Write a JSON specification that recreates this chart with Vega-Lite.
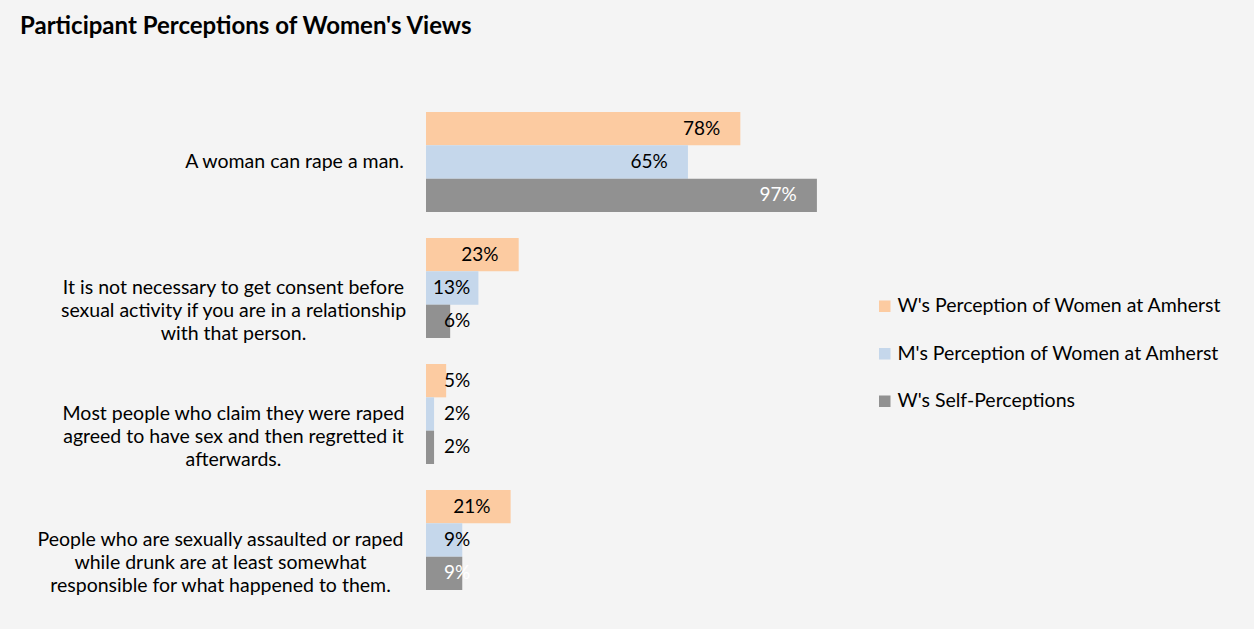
{
  "$schema": "https://vega.github.io/schema/vega-lite/v6.json",
  "width": 403,
  "height": 504,
  "autosize": {"type": "none"},
  "padding": {"left": 426, "top": 99, "right": 425, "bottom": 26},
  "background": "#f4f4f4",
  "config": {"view": {"stroke": null}, "font": "Lato"},
  "title": {
    "text": "Participant Perceptions of Women's Views",
    "anchor": "start",
    "frame": "group",
    "font": "Lato",
    "fontSize": 24,
    "fontWeight": "bold",
    "color": "#000000",
    "baseline": "alphabetic",
    "offset": 41,
    "dx": -406
  },
  "data": {
    "values": [
      {"question": "A woman can rape a man.", "series": "W's Perception of Women at Amherst", "value": 0.78},
      {"question": "A woman can rape a man.", "series": "M's Perception of Women at Amherst", "value": 0.65},
      {"question": "A woman can rape a man.", "series": "W's Self-Perceptions", "value": 0.97},
      {"question": "It is not necessary to get consent before|sexual activity if you are in a relationship|with that person.", "series": "W's Perception of Women at Amherst", "value": 0.23},
      {"question": "It is not necessary to get consent before|sexual activity if you are in a relationship|with that person.", "series": "M's Perception of Women at Amherst", "value": 0.13},
      {"question": "It is not necessary to get consent before|sexual activity if you are in a relationship|with that person.", "series": "W's Self-Perceptions", "value": 0.06},
      {"question": "Most people who claim they were raped|agreed to have sex and then regretted it|afterwards.", "series": "W's Perception of Women at Amherst", "value": 0.05},
      {"question": "Most people who claim they were raped|agreed to have sex and then regretted it|afterwards.", "series": "M's Perception of Women at Amherst", "value": 0.02},
      {"question": "Most people who claim they were raped|agreed to have sex and then regretted it|afterwards.", "series": "W's Self-Perceptions", "value": 0.02},
      {"question": "People who are sexually assaulted or raped|while drunk are at least somewhat|responsible for what happened to them.", "series": "W's Perception of Women at Amherst", "value": 0.21},
      {"question": "People who are sexually assaulted or raped|while drunk are at least somewhat|responsible for what happened to them.", "series": "M's Perception of Women at Amherst", "value": 0.09},
      {"question": "People who are sexually assaulted or raped|while drunk are at least somewhat|responsible for what happened to them.", "series": "W's Self-Perceptions", "value": 0.09}
    ]
  },
  "transform": [{"calculate": "max(datum.value - 0.05, 0.11)", "as": "labelPos"}],
  "encoding": {
    "y": {
      "field": "question",
      "type": "nominal",
      "sort": null,
      "scale": {"paddingInner": 0.206, "paddingOuter": 0.103},
      "axis": {
        "title": null,
        "domain": false,
        "ticks": false,
        "labelFont": "Lato",
        "labelFontSize": 19.5,
        "labelColor": "#000000",
        "labelAlign": "center",
        "labelBaseline": "middle",
        "labelLineHeight": 23,
        "labelLimit": 0,
        "labelExpr": "split(datum.label, '|')",
        "labelPadding": {
          "condition": [
            {"test": "substring(datum.value, 0, 7) === 'A woman'", "value": 132},
            {"test": "substring(datum.value, 0, 10) === 'People who'", "value": 206}
          ],
          "value": 193
        }
      }
    },
    "yOffset": {
      "field": "series",
      "type": "nominal",
      "sort": null,
      "scale": {"paddingInner": 0, "paddingOuter": 0}
    }
  },
  "layer": [
    {
      "mark": {"type": "bar"},
      "encoding": {
        "x": {
          "field": "value",
          "type": "quantitative",
          "scale": {"domain": [0, 1]},
          "axis": null
        },
        "color": {
          "field": "series",
          "type": "nominal",
          "sort": null,
          "scale": {
            "domain": ["W's Perception of Women at Amherst", "M's Perception of Women at Amherst", "W's Self-Perceptions"],
            "range": ["#fccba1", "#c5d7eb", "#919191"]
          },
          "legend": {
            "title": null,
            "orient": "none",
            "legendX": 449,
            "legendY": 197.5,
            "symbolType": "square",
            "symbolSize": 132,
            "symbolStrokeWidth": 0,
            "labelFont": "Lato",
            "labelFontSize": 19.5,
            "labelColor": "#000000",
            "labelOffset": 3,
            "labelLimit": 0,
            "rowPadding": 26.5,
            "padding": 0
          }
        }
      }
    },
    {
      "mark": {"type": "text", "align": "right", "baseline": "middle", "font": "Lato", "fontSize": 19},
      "encoding": {
        "x": {"field": "labelPos", "type": "quantitative"},
        "text": {"field": "value", "type": "quantitative", "format": ".0%"},
        "color": {
          "condition": {"test": "datum.value >= 0.09 && substring(datum.series, 4, 8) === 'Self'", "value": "#ffffff"},
          "value": "#000000"
        }
      }
    }
  ]
}
